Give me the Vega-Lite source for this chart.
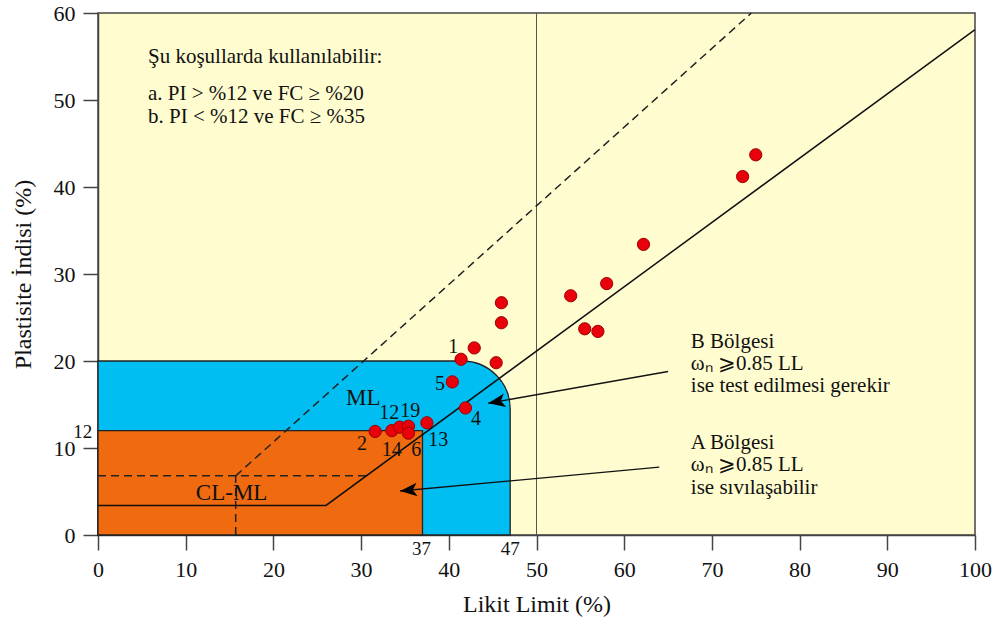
{
  "$schema": "https://vega.github.io/schema/vega-lite/v6.json",
  "width": 877,
  "height": 522,
  "autosize": {"type": "none"},
  "padding": {"left": 98, "top": 13, "right": 19, "bottom": 90},
  "background": "white",
  "config": {
    "font": "Liberation Serif",
    "view": {"fill": "#FFFDD0", "stroke": "#444", "strokeWidth": 1.5},
    "style": {
      "guide-label": {"font": "Liberation Serif", "fontSize": 22, "fill": "#111"},
      "guide-title": {"font": "Liberation Serif", "fontSize": 24, "fill": "#111", "fontWeight": "normal"}
    },
    "axis": {
      "labelFont": "Liberation Serif",
      "titleFont": "Liberation Serif",
      "labelFontSize": 22,
      "titleFontSize": 24,
      "titleFontWeight": "normal",
      "labelColor": "#111",
      "titleColor": "#111",
      "domainColor": "#444",
      "tickColor": "#444",
      "domainWidth": 1.5,
      "tickWidth": 1.5,
      "tickSize": 15,
      "labelFlush": false,
      "labelOverlap": false,
      "grid": false
    },
    "axisX": {"labelPadding": 9, "titlePadding": 12},
    "axisY": {"labelPadding": 8, "titlePadding": 18}
  },
  "datasets": {
    "zoneB": [{"x": 0, "x2": 47, "y": 0, "y2": 20}],
    "zoneA": [{"x": 0, "x2": 37, "y": 0, "y2": 12}],
    "vline": [{"x": 50, "y": 0, "y2": 60}],
    "dashed": [
      {"x": 0, "y": 6.8, "x2": 30.6, "y2": 6.8},
      {"x": 15.7, "y": 0, "x2": 15.7, "y2": 6.8},
      {"x": 15.7, "y": 6.8, "x2": 74.5, "y2": 60}
    ],
    "aline": [
      {"x": 0, "y": 3.4},
      {"x": 26, "y": 3.4},
      {"x": 100, "y": 58.1}
    ],
    "arrows": [
      {"zone": "B", "x": 65.0, "y": 18.8, "x2": 44.5, "y2": 15.15},
      {"zone": "A", "x": 64.0, "y": 7.8, "x2": 34.45, "y2": 5.05}
    ],
    "samples": [
      {"x": 41.4, "y": 20.2},
      {"x": 42.9, "y": 21.5},
      {"x": 45.4, "y": 19.8},
      {"x": 46.0, "y": 24.4},
      {"x": 46.0, "y": 26.7},
      {"x": 40.4, "y": 17.6},
      {"x": 41.9, "y": 14.6},
      {"x": 31.6, "y": 11.9},
      {"x": 33.5, "y": 12.0},
      {"x": 34.4, "y": 12.4},
      {"x": 35.4, "y": 12.5},
      {"x": 35.4, "y": 11.7},
      {"x": 37.5, "y": 12.9},
      {"x": 53.9, "y": 27.5},
      {"x": 55.5, "y": 23.7},
      {"x": 57.0, "y": 23.4},
      {"x": 58.0, "y": 28.9},
      {"x": 62.2, "y": 33.4},
      {"x": 73.5, "y": 41.2},
      {"x": 75.0, "y": 43.7}
    ],
    "pointLabels": [
      {"x": 40.5, "y": 21.6, "text": "1"},
      {"x": 39.0, "y": 17.4, "text": "5"},
      {"x": 43.1, "y": 13.3, "text": "4"},
      {"x": 30.1, "y": 10.5, "text": "2"},
      {"x": 33.5, "y": 9.8, "text": "14"},
      {"x": 36.3, "y": 9.8, "text": "6"},
      {"x": 38.8, "y": 10.95, "text": "13"},
      {"x": 33.2, "y": 14.0, "text": "12"},
      {"x": 35.6, "y": 14.2, "text": "19"}
    ],
    "zoneLabels": [
      {"x": 30.25, "y": 15.7, "text": "ML"},
      {"x": 15.24, "y": 4.8, "text": "CL-ML"}
    ],
    "axisExtras": [
      {"x": -1.75, "y": 11.8, "text": "12"},
      {"x": 36.9, "y": -1.65, "text": "37"},
      {"x": 47.0, "y": -1.65, "text": "47"}
    ],
    "notes": [
      {"x": 5.7, "y": 54.2, "text": "Şu koşullarda kullanılabilir:"},
      {"x": 5.7, "y": 50.0, "text": "a. PI > %12 ve FC ≥ %20"},
      {"x": 5.7, "y": 47.4, "text": "b. PI < %12 ve FC ≥ %35"},
      {"x": 67.6, "y": 21.5, "text": "B Bölgesi"},
      {"x": 67.6, "y": 18.97, "text": "ωₙ ⩾0.85 LL"},
      {"x": 67.6, "y": 16.44, "text": "ise test edilmesi gerekir"},
      {"x": 67.6, "y": 9.89, "text": "A Bölgesi"},
      {"x": 67.6, "y": 7.36, "text": "ωₙ ⩾0.85 LL"},
      {"x": 67.6, "y": 4.75, "text": "ise sıvılaşabilir"}
    ]
  },
  "layer": [
    {
      "data": {"name": "zoneB"},
      "mark": {"type": "rect", "fill": "#00BEF2", "stroke": "#222", "strokeWidth": 1.3, "cornerRadiusTopRight": 48},
      "encoding": {
        "x": {"field": "x", "type": "quantitative", "scale": {"domain": [0, 100], "nice": false},
              "axis": {"title": "Likit Limit (%)", "values": [0, 10, 20, 30, 40, 50, 60, 70, 80, 90, 100]}},
        "x2": {"field": "x2"},
        "y": {"field": "y", "type": "quantitative", "scale": {"domain": [0, 60], "nice": false},
              "axis": {"title": "Plastisite İndisi (%)", "values": [0, 10, 20, 30, 40, 50, 60]}},
        "y2": {"field": "y2"}
      }
    },
    {
      "data": {"name": "zoneA"},
      "mark": {"type": "rect", "fill": "#F06A0F", "stroke": "#222", "strokeWidth": 1.3},
      "encoding": {
        "x": {"field": "x", "type": "quantitative", "scale": {"domain": [0, 100], "nice": false},
              "axis": {"title": "Likit Limit (%)", "values": [0, 10, 20, 30, 40, 50, 60, 70, 80, 90, 100]}},
        "x2": {"field": "x2"},
        "y": {"field": "y", "type": "quantitative", "scale": {"domain": [0, 60], "nice": false},
              "axis": {"title": "Plastisite İndisi (%)", "values": [0, 10, 20, 30, 40, 50, 60]}},
        "y2": {"field": "y2"}
      }
    },
    {
      "data": {"name": "vline"},
      "mark": {"type": "rule", "stroke": "#555", "strokeWidth": 1},
      "encoding": {
        "x": {"field": "x", "type": "quantitative", "scale": {"domain": [0, 100], "nice": false},
              "axis": {"title": "Likit Limit (%)", "values": [0, 10, 20, 30, 40, 50, 60, 70, 80, 90, 100]}},
        "y": {"field": "y", "type": "quantitative", "scale": {"domain": [0, 60], "nice": false},
              "axis": {"title": "Plastisite İndisi (%)", "values": [0, 10, 20, 30, 40, 50, 60]}},
        "y2": {"field": "y2"}
      }
    },
    {
      "data": {"name": "dashed"},
      "mark": {"type": "rule", "stroke": "#222", "strokeWidth": 1.5, "strokeDash": [8, 5]},
      "encoding": {
        "x": {"field": "x", "type": "quantitative", "scale": {"domain": [0, 100], "nice": false},
              "axis": {"title": "Likit Limit (%)", "values": [0, 10, 20, 30, 40, 50, 60, 70, 80, 90, 100]}},
        "x2": {"field": "x2"},
        "y": {"field": "y", "type": "quantitative", "scale": {"domain": [0, 60], "nice": false},
              "axis": {"title": "Plastisite İndisi (%)", "values": [0, 10, 20, 30, 40, 50, 60]}},
        "y2": {"field": "y2"}
      }
    },
    {
      "data": {"name": "aline"},
      "mark": {"type": "line", "stroke": "#111", "strokeWidth": 1.5},
      "encoding": {
        "x": {"field": "x", "type": "quantitative", "scale": {"domain": [0, 100], "nice": false},
              "axis": {"title": "Likit Limit (%)", "values": [0, 10, 20, 30, 40, 50, 60, 70, 80, 90, 100]}},
        "y": {"field": "y", "type": "quantitative", "scale": {"domain": [0, 60], "nice": false},
              "axis": {"title": "Plastisite İndisi (%)", "values": [0, 10, 20, 30, 40, 50, 60]}}
      }
    },
    {
      "data": {"name": "arrows"},
      "mark": {"type": "rule", "stroke": "#111", "strokeWidth": 1.4},
      "encoding": {
        "x": {"field": "x", "type": "quantitative", "scale": {"domain": [0, 100], "nice": false},
              "axis": {"title": "Likit Limit (%)", "values": [0, 10, 20, 30, 40, 50, 60, 70, 80, 90, 100]}},
        "x2": {"field": "x2"},
        "y": {"field": "y", "type": "quantitative", "scale": {"domain": [0, 60], "nice": false},
              "axis": {"title": "Plastisite İndisi (%)", "values": [0, 10, 20, 30, 40, 50, 60]}},
        "y2": {"field": "y2"}
      }
    },
    {
      "data": {"name": "arrows"},
      "transform": [{"filter": "datum.zone === 'B'"}],
      "mark": {"type": "point", "shape": "M0,0 L2,-0.8 L1.5,0 L2,0.8 Z", "filled": true, "fill": "#000", "opacity": 1, "size": 289, "angle": 350},
      "encoding": {
        "x": {"field": "x2", "type": "quantitative", "scale": {"domain": [0, 100], "nice": false},
              "axis": {"title": "Likit Limit (%)", "values": [0, 10, 20, 30, 40, 50, 60, 70, 80, 90, 100]}},
        "y": {"field": "y2", "type": "quantitative", "scale": {"domain": [0, 60], "nice": false},
              "axis": {"title": "Plastisite İndisi (%)", "values": [0, 10, 20, 30, 40, 50, 60]}}
      }
    },
    {
      "data": {"name": "arrows"},
      "transform": [{"filter": "datum.zone === 'A'"}],
      "mark": {"type": "point", "shape": "M0,0 L2,-0.8 L1.5,0 L2,0.8 Z", "filled": true, "fill": "#000", "opacity": 1, "size": 289, "angle": 355},
      "encoding": {
        "x": {"field": "x2", "type": "quantitative", "scale": {"domain": [0, 100], "nice": false},
              "axis": {"title": "Likit Limit (%)", "values": [0, 10, 20, 30, 40, 50, 60, 70, 80, 90, 100]}},
        "y": {"field": "y2", "type": "quantitative", "scale": {"domain": [0, 60], "nice": false},
              "axis": {"title": "Plastisite İndisi (%)", "values": [0, 10, 20, 30, 40, 50, 60]}}
      }
    },
    {
      "data": {"name": "samples"},
      "mark": {"type": "circle", "fill": "#E8000B", "stroke": "#A00000", "strokeWidth": 1, "size": 150, "opacity": 1},
      "encoding": {
        "x": {"field": "x", "type": "quantitative", "scale": {"domain": [0, 100], "nice": false},
              "axis": {"title": "Likit Limit (%)", "values": [0, 10, 20, 30, 40, 50, 60, 70, 80, 90, 100]}},
        "y": {"field": "y", "type": "quantitative", "scale": {"domain": [0, 60], "nice": false},
              "axis": {"title": "Plastisite İndisi (%)", "values": [0, 10, 20, 30, 40, 50, 60]}}
      }
    },
    {
      "data": {"name": "pointLabels"},
      "mark": {"type": "text", "fontSize": 20, "align": "center", "baseline": "middle", "color": "#111", "font": "Liberation Serif"},
      "encoding": {
        "x": {"field": "x", "type": "quantitative", "scale": {"domain": [0, 100], "nice": false},
              "axis": {"title": "Likit Limit (%)", "values": [0, 10, 20, 30, 40, 50, 60, 70, 80, 90, 100]}},
        "y": {"field": "y", "type": "quantitative", "scale": {"domain": [0, 60], "nice": false},
              "axis": {"title": "Plastisite İndisi (%)", "values": [0, 10, 20, 30, 40, 50, 60]}},
        "text": {"field": "text"}
      }
    },
    {
      "data": {"name": "zoneLabels"},
      "mark": {"type": "text", "fontSize": 23, "align": "center", "baseline": "middle", "color": "#111", "font": "Liberation Serif"},
      "encoding": {
        "x": {"field": "x", "type": "quantitative", "scale": {"domain": [0, 100], "nice": false},
              "axis": {"title": "Likit Limit (%)", "values": [0, 10, 20, 30, 40, 50, 60, 70, 80, 90, 100]}},
        "y": {"field": "y", "type": "quantitative", "scale": {"domain": [0, 60], "nice": false},
              "axis": {"title": "Plastisite İndisi (%)", "values": [0, 10, 20, 30, 40, 50, 60]}},
        "text": {"field": "text"}
      }
    },
    {
      "data": {"name": "axisExtras"},
      "mark": {"type": "text", "fontSize": 19, "align": "center", "baseline": "middle", "color": "#111", "font": "Liberation Serif"},
      "encoding": {
        "x": {"field": "x", "type": "quantitative", "scale": {"domain": [0, 100], "nice": false},
              "axis": {"title": "Likit Limit (%)", "values": [0, 10, 20, 30, 40, 50, 60, 70, 80, 90, 100]}},
        "y": {"field": "y", "type": "quantitative", "scale": {"domain": [0, 60], "nice": false},
              "axis": {"title": "Plastisite İndisi (%)", "values": [0, 10, 20, 30, 40, 50, 60]}},
        "text": {"field": "text"}
      }
    },
    {
      "data": {"name": "notes"},
      "mark": {"type": "text", "fontSize": 21, "align": "left", "baseline": "alphabetic", "color": "#111", "font": "Liberation Serif"},
      "encoding": {
        "x": {"field": "x", "type": "quantitative", "scale": {"domain": [0, 100], "nice": false},
              "axis": {"title": "Likit Limit (%)", "values": [0, 10, 20, 30, 40, 50, 60, 70, 80, 90, 100]}},
        "y": {"field": "y", "type": "quantitative", "scale": {"domain": [0, 60], "nice": false},
              "axis": {"title": "Plastisite İndisi (%)", "values": [0, 10, 20, 30, 40, 50, 60]}},
        "text": {"field": "text"}
      }
    }
  ]
}
